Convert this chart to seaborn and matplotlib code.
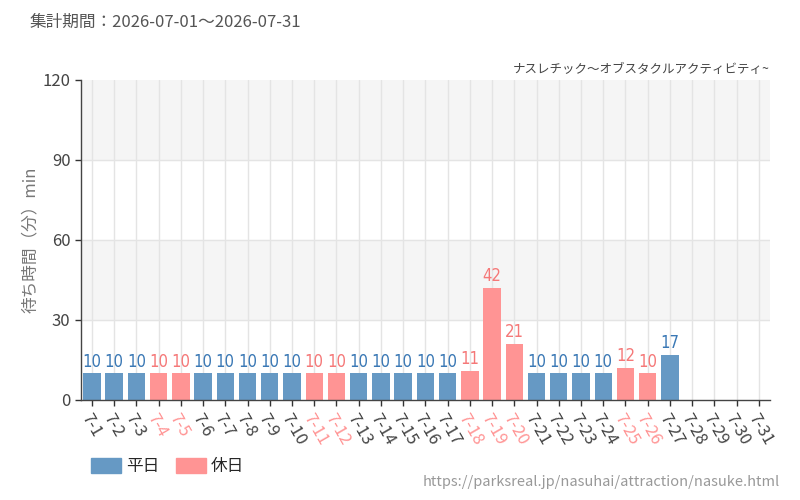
import numpy as np
import pandas as pd
import matplotlib
matplotlib.use("Agg")
import matplotlib.pyplot as plt
import seaborn as sns
from matplotlib.patches import Patch

days = [f"7-{d}" for d in range(1, 32)]
wait = [10, 10, 10, 10, 10, 10, 10, 10, 10, 10, 10, 10, 10, 10, 10, 10, 10,
        11, 42, 21, 10, 10, 10, 10, 12, 10, 17,
        np.nan, np.nan, np.nan, np.nan]
holidays = ["7-4", "7-5", "7-11", "7-12", "7-18", "7-19", "7-20", "7-25", "7-26"]

BLUE = "#6699c4"
PINK = "#ff9494"
BLUE_TXT = "#3a78b5"
PINK_TXT = "#f57878"

sns.set_theme(style="white")
plt.rcParams["font.family"] = ["Noto Sans CJK JP", "DejaVu Sans"]

df = pd.DataFrame({"day": days, "wait": wait})
df["type"] = np.where(df["day"].isin(holidays), "休日", "平日")

fig = plt.figure(figsize=(8, 5), dpi=100)
ax = fig.add_axes([0.101, 0.2, 0.8615, 0.64])

sns.barplot(data=df, x="day", y="wait", hue="type", order=days,
            palette={"平日": BLUE, "休日": PINK}, dodge=False, width=0.78,
            saturation=1, legend=False, linewidth=0, ax=ax)

ax.set_xlim(-0.5, len(days) - 0.5)
ax.set_ylim(0, 120)
ax.set_yticks([0, 30, 60, 90, 120])

# background bands
ax.axhspan(90, 120, color="#f5f5f5", zorder=0)
ax.axhspan(30, 60, color="#f5f5f5", zorder=0)
for y in [30, 60, 90]:
    ax.axhline(y, color="#e4e4e4", lw=1, zorder=0.5)
for i in range(len(days)):
    ax.axvline(i, color="#e4e4e4", lw=1, zorder=0.5)

for s in ["top", "right"]:
    ax.spines[s].set_visible(False)
for s in ["left", "bottom"]:
    ax.spines[s].set_color("#444444")
    ax.spines[s].set_linewidth(1)

ax.tick_params(axis="both", length=4, width=1, color="#333333", bottom=True, left=True)
ax.tick_params(axis="y", labelsize=12, labelcolor="#444444")
ax.set_xlabel("")
ax.set_ylabel("待ち時間（分）min", color="#777777", fontsize=12)
ax.yaxis.set_label_coords(-0.06, 0.5)

ax.set_xticks(range(len(days)))
ax.set_xticklabels(days, rotation=-60, ha="left", rotation_mode="anchor", fontsize=12)
for lab in ax.get_xticklabels():
    lab.set_color(PINK if lab.get_text() in holidays else "#444444")

for i, (d, v) in enumerate(zip(days, wait)):
    if np.isnan(v):
        continue
    ax.text(i, v + 1.0, f"{int(v)}", ha="center", va="bottom", fontsize=12,
            family="DejaVu Sans", stretch="condensed",
            color=PINK_TXT if d in holidays else BLUE_TXT)

fig.text(0.0375, 0.955, "集計期間：2026-07-01～2026-07-31", fontsize=12,
         color="#555555", va="center", ha="left")
fig.text(0.9625, 0.86, "ナスレチック～オブスタクルアクティビティ~", fontsize=9,
         color="#444444", va="center", ha="right")
fig.text(0.975, 0.036, "https://parksreal.jp/nasuhai/attraction/nasuke.html", fontsize=10.5,
         color="#999999", va="center", ha="right")

handles = [Patch(color=BLUE, label="平日"), Patch(color=PINK, label="休日")]
fig.legend(handles=handles, loc="center left", bbox_to_anchor=(0.095, 0.067),
           ncol=2, frameon=False, fontsize=12, handlelength=1.8, handleheight=1,
           columnspacing=1.0, handletextpad=0.3)

fig.savefig("out.png", dpi=100)
